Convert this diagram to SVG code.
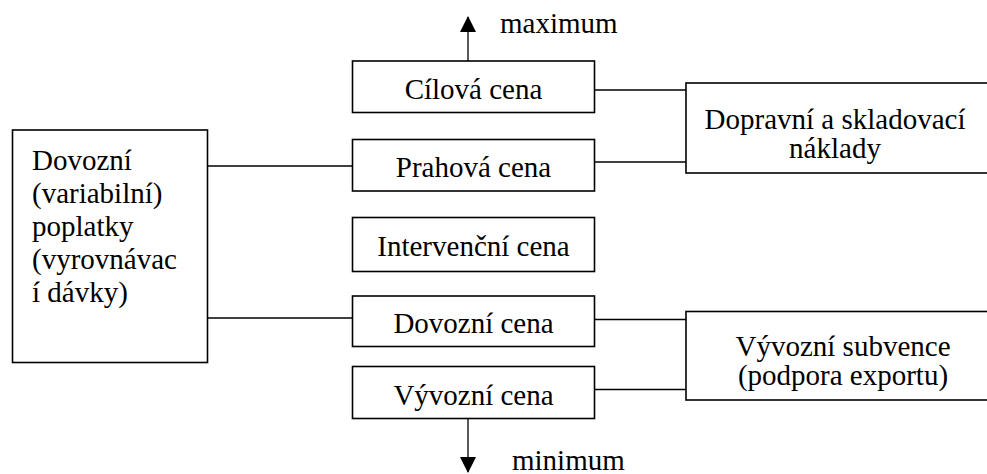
<svg xmlns="http://www.w3.org/2000/svg" width="987" height="474" viewBox="0 0 987 474">
<style>
.b{fill:#fff;stroke:#000;stroke-width:1.6}
.c{stroke:#000;stroke-width:1.3;fill:none}
.t{font-family:'Liberation Serif','Times New Roman','DejaVu Serif',serif;font-size:29px;fill:#000}
.m{text-anchor:middle}
</style>
<defs>
<marker id="ah" markerWidth="16" markerHeight="16" refX="15" refY="8" orient="auto" markerUnits="userSpaceOnUse">
<path d="M0,0 L16,8 L0,16 Z" fill="#000"/>
</marker>
</defs>
<rect width="987" height="474" fill="#fff"/>
<g id="connectors">
<line class="c" x1="594.5" y1="90" x2="686" y2="90"/>
<line class="c" x1="594.5" y1="162" x2="686" y2="162"/>
<line class="c" x1="207.5" y1="166" x2="352.5" y2="166"/>
<line class="c" x1="207.5" y1="318" x2="352.5" y2="318"/>
<line class="c" x1="594.5" y1="319.5" x2="686" y2="319.5"/>
<line class="c" x1="594.5" y1="389.5" x2="686" y2="389.5"/>
<line class="c" x1="468" y1="61" x2="468" y2="17" marker-end="url(#ah)"/>
<line class="c" x1="468" y1="418.5" x2="468" y2="472" marker-end="url(#ah)"/>
</g>
<g class="t">
<g id="max"><text x="500" y="33">maximum</text></g>
<g id="min"><text x="512" y="470">minimum</text></g>
</g>
<g class="t">
<g id="cilova"><rect class="b" x="352.5" y="61" width="242" height="51.5"/><text class="m" x="473.5" y="99">Cílová cena</text></g>
<g id="prahova"><rect class="b" x="352.5" y="139.5" width="242" height="51.5"/><text class="m" x="473.5" y="177">Prahová cena</text></g>
<g id="intervencni"><rect class="b" x="352.5" y="217.5" width="242" height="54"/><text class="m" x="473.5" y="256">Intervenční cena</text></g>
<g id="dovozni"><rect class="b" x="352.5" y="296" width="242" height="50.5"/><text class="m" x="473.5" y="333">Dovozní cena</text></g>
<g id="vyvozni"><rect class="b" x="352.5" y="366.5" width="242" height="52"/><text class="m" x="473.5" y="405">Vývozní cena</text></g>
<g id="poplatky"><rect class="b" x="12.5" y="130" width="195" height="232.5"/>
<text x="32" y="170">Dovozní</text>
<text x="32" y="203">(variabilní)</text>
<text x="32" y="236">poplatky</text>
<text x="32" y="269">(vyrovnávac</text>
<text x="32" y="302">í dávky)</text>
</g>
<g id="doprava"><rect class="b" x="686" y="83" width="310" height="90"/>
<text class="m" x="835" y="129">Dopravní a skladovací</text>
<text class="m" x="835" y="158">náklady</text>
</g>
<g id="subvence"><rect class="b" x="686" y="311.5" width="310" height="88.5"/>
<text class="m" x="843" y="356">Vývozní subvence</text>
<text class="m" x="843" y="385">(podpora exportu)</text>
</g>
</g>
</svg>
